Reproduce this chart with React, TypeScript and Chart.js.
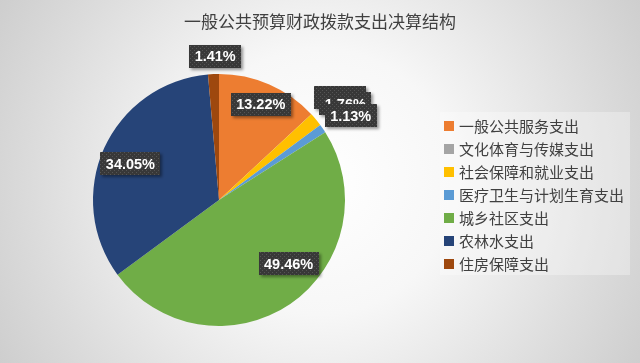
import React, { useEffect, useRef } from "react";
import { Chart, registerables } from "chart.js";

Chart.register(...registerables);

const TITLE = "一般公共预算财政拨款支出决算结构";
const categories = [
  "一般公共服务支出",
  "文化体育与传媒支出",
  "社会保障和就业支出",
  "医疗卫生与计划生育支出",
  "城乡社区支出",
  "农林水支出",
  "住房保障支出",
];
const values = [13.22, 0.02, 1.76, 1.13, 49.46, 34.05, 1.41];
const colors = ["#ED7D31", "#A5A5A5", "#FFC000", "#5B9BD5", "#70AD47", "#264478", "#9E480E"];
// label placement (radius factor, angle shift in degrees)
const labelRadius = [0.83, 1.26, 1.26, 1.24, 0.75, 0.76, 1.14];
const labelShift = [0, 2.8, 2.4, 2, -13, -2, 1];

function makePattern(ctx: CanvasRenderingContext2D) {
  const c = document.createElement("canvas");
  c.width = 4;
  c.height = 4;
  const p = c.getContext("2d")!;
  p.fillStyle = "#383838";
  p.fillRect(0, 0, 4, 4);
  p.fillStyle = "#555555";
  p.fillRect(0, 0, 1, 1);
  p.fillRect(2, 2, 1, 1);
  return ctx.createPattern(c, "repeat")!;
}

const bgPlugin = {
  id: "bg",
  beforeDraw(chart: any) {
    const { ctx, width, height } = chart;
    ctx.save();
    const g = ctx.createRadialGradient(width / 2, height / 2, 0, width / 2, height / 2, 380);
    g.addColorStop(0, "#ffffff");
    g.addColorStop(0.35, "#f7f7f7");
    g.addColorStop(0.75, "#dcdcdc");
    g.addColorStop(1, "#cccccc");
    ctx.fillStyle = g;
    ctx.fillRect(0, 0, width, height);
    ctx.fillStyle = "#404040";
    ctx.font = '17px "Noto Sans CJK SC", serif';
    ctx.textAlign = "center";
    ctx.textBaseline = "middle";
    ctx.fillText(TITLE, 320, 22);
    ctx.restore();
  },
};

const labelPlugin = {
  id: "lbls",
  afterDatasetsDraw(chart: any) {
    const ctx: CanvasRenderingContext2D = chart.ctx;
    const meta = chart.getDatasetMeta(0);
    const pattern = makePattern(ctx);
    ctx.save();
    ctx.font = 'bold 14.5px "Liberation Sans", Arial, sans-serif';
    ctx.textAlign = "center";
    ctx.textBaseline = "middle";
    meta.data.forEach((arc: any, i: number) => {
      const { x, y, startAngle, endAngle, outerRadius } = arc.getProps(
        ["x", "y", "startAngle", "endAngle", "outerRadius"],
        true
      );
      const mid = (startAngle + endAngle) / 2 + (labelShift[i] * Math.PI) / 180;
      const r = outerRadius * labelRadius[i];
      const cx = x + Math.cos(mid) * r;
      const cy = y + Math.sin(mid) * r;
      const text = values[i].toFixed(2) + "%";
      const w = ctx.measureText(text).width + 11;
      const h = 23;
      ctx.save();
      ctx.shadowColor = "rgba(0,0,0,0.4)";
      ctx.shadowBlur = 3;
      ctx.shadowOffsetX = 2;
      ctx.shadowOffsetY = 2;
      ctx.fillStyle = pattern;
      ctx.fillRect(Math.round(cx - w / 2), Math.round(cy - h / 2), Math.round(w), h);
      ctx.restore();
      ctx.fillStyle = "#ffffff";
      ctx.fillText(text, cx, cy + 1);
    });
    ctx.restore();
  },
};

const legendPlugin = {
  id: "customLegend",
  afterDraw(chart: any) {
    const ctx: CanvasRenderingContext2D = chart.ctx;
    ctx.save();
    ctx.fillStyle = "rgba(255,255,255,0.3)";
    ctx.fillRect(440, 112, 190, 163);
    ctx.font = '15px "Noto Sans CJK SC", sans-serif';
    ctx.textAlign = "left";
    ctx.textBaseline = "middle";
    const labels: string[] = chart.data.labels;
    labels.forEach((lab, i) => {
      const cy = 126 + i * 23;
      ctx.fillStyle = colors[i];
      ctx.fillRect(444, cy - 5, 10, 10);
      ctx.fillStyle = "#404040";
      ctx.fillText(lab, 459, cy);
    });
    ctx.restore();
  },
};

export default function App() {
  const ref = useRef<HTMLCanvasElement>(null);
  useEffect(() => {
    document.body.style.margin = "0";
    const chart = new Chart(ref.current!, {
      type: "pie",
      data: {
        labels: categories,
        datasets: [
          {
            data: values,
            backgroundColor: colors,
            borderWidth: 0,
          },
        ],
      },
      options: {
        responsive: false,
        animation: false,
        layout: { padding: { top: 74, bottom: 37, left: 93, right: 295 } },
        plugins: {
          legend: { display: false },
          title: { display: false },
          tooltip: { enabled: false },
        },
      },
      plugins: [bgPlugin, labelPlugin, legendPlugin],
    });
    return () => chart.destroy();
  }, []);
  return (
    <div style={{ width: 640, height: 363 }}>
      <canvas ref={ref} width={640} height={363} style={{ display: "block" }} />
    </div>
  );
}
